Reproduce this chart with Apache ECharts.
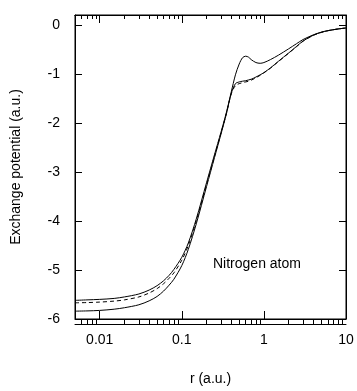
<!DOCTYPE html>
<html>
<head>
<meta charset="utf-8">
<script src="https://cdn.jsdelivr.net/npm/echarts@6/dist/echarts.min.js"></script>
<style>
  html, body { margin: 0; padding: 0; background: #fff; }
  #chart { width: 357px; height: 391px; }
</style>
</head>
<body>
<div id="chart"></div>
<script>
// radius grid (a.u.)
const rValues = [0.005, 0.007, 0.01, 0.015, 0.02, 0.03, 0.04, 0.05, 0.06, 0.07, 0.08, 0.1, 0.12, 0.15, 0.2, 0.25, 0.3, 0.35, 0.4, 0.45, 0.5, 0.55, 0.6, 0.65, 0.7, 0.8, 0.9, 1, 1.2, 1.5, 2, 2.5, 3, 4, 5, 6, 8, 10];

// solid curve with the intershell bump
const solidBump = [-5.62, -5.61, -5.60, -5.58, -5.55, -5.49, -5.41, -5.32, -5.22, -5.11, -4.99, -4.74, -4.45, -3.96, -3.22, -2.65, -2.19, -1.78, -1.37, -1.02, -0.80, -0.67, -0.64, -0.66, -0.71, -0.77, -0.785, -0.77, -0.71, -0.62, -0.49, -0.385, -0.30, -0.205, -0.15, -0.12, -0.085, -0.065];

// dashed curve
const dashed = [-5.67, -5.665, -5.655, -5.635, -5.61, -5.55, -5.47, -5.38, -5.28, -5.17, -5.06, -4.80, -4.50, -4.00, -3.26, -2.68, -2.21, -1.80, -1.41, -1.24, -1.20, -1.18, -1.165, -1.15, -1.13, -1.08, -1.03, -0.98, -0.885, -0.75, -0.58, -0.445, -0.335, -0.215, -0.155, -0.12, -0.085, -0.065];

// solid curve without the bump
const solidFlat = [-5.84, -5.835, -5.825, -5.80, -5.77, -5.71, -5.63, -5.54, -5.43, -5.31, -5.19, -4.91, -4.58, -4.06, -3.30, -2.71, -2.23, -1.81, -1.40, -1.20, -1.165, -1.15, -1.14, -1.125, -1.11, -1.065, -1.02, -0.975, -0.88, -0.745, -0.575, -0.44, -0.33, -0.212, -0.153, -0.12, -0.085, -0.065];

// ticks
const xMajorTicks = [0.01, 0.1, 1, 10];
const xMinorTicks = [0.006, 0.007, 0.008, 0.009, 0.02, 0.03, 0.04, 0.05, 0.06, 0.07, 0.08, 0.09, 0.2, 0.3, 0.4, 0.5, 0.6, 0.7, 0.8, 0.9, 2, 3, 4, 5, 6, 7, 8, 9];
const yTicks = [-6, -5, -4, -3, -2, -1, 0];

const font = 'Liberation Sans, Arial, sans-serif';

const toPairs = (vals) => rValues.map((r, i) => [r, vals[i]]);

function xAxisDef(gridIndex, pos, ticks, len, labels) {
  return {
    type: 'log',
    gridIndex: gridIndex,
    position: pos,
    min: 0.005,
    max: 10,
    logBase: 10,
    name: labels ? 'r (a.u.)' : '',
    nameLocation: 'middle',
    nameGap: 53,
    nameTextStyle: { fontFamily: font, fontSize: 14, color: '#000' },
    axisLine: { show: true, onZero: false, lineStyle: { color: '#000', width: 1 } },
    axisTick: { show: true, inside: true, length: len, customValues: ticks, lineStyle: { color: '#000', width: 1 } },
    axisLabel: labels
      ? { show: true, customValues: ticks, margin: 14, fontFamily: font, fontSize: 14, color: '#000', formatter: (v) => String(v) }
      : { show: false },
    splitLine: { show: false },
    minorTick: { show: false },
  };
}

function yAxisDef(gridIndex, pos, labels, visible) {
  return {
    type: 'value',
    gridIndex: gridIndex,
    show: visible,
    position: pos,
    min: -6,
    max: 0.2,
    interval: 1,
    name: labels ? 'Exchange potential (a.u.)' : '',
    nameLocation: 'middle',
    nameGap: 52,
    nameTextStyle: { fontFamily: font, fontSize: 14, color: '#000' },
    axisLine: { show: true, onZero: false, lineStyle: { color: '#000', width: 1 } },
    axisTick: { show: true, inside: true, length: 7, customValues: yTicks, lineStyle: { color: '#000', width: 1 } },
    axisLabel: labels
      ? { show: true, customValues: yTicks, margin: 15, fontFamily: font, fontSize: 14, color: '#000' }
      : { show: false },
    splitLine: { show: false },
  };
}

const chart = echarts.init(document.getElementById('chart'), null, { renderer: 'canvas' });

const lineSeries = (data, dash) => ({
  type: 'line',
  xAxisIndex: 0,
  yAxisIndex: 0,
  data: data,
  showSymbol: false,
  smooth: 0.3,
  lineStyle: { color: '#000', width: 1, type: dash ? [4, 3] : 'solid' },
  animation: false,
});

const gridBox = { left: 75, right: 11, top: 15, bottom: 67 };

chart.setOption({
  animation: false,
  grid: [
    Object.assign({ show: true, borderColor: '#000', borderWidth: 1 }, gridBox),
    Object.assign({ show: false }, gridBox),
  ],
  xAxis: [
    xAxisDef(0, 'bottom', xMajorTicks, 8, true),
    xAxisDef(0, 'top', xMajorTicks, 8, false),
    xAxisDef(1, 'bottom', xMinorTicks, 4, false),
    xAxisDef(1, 'top', xMinorTicks, 4, false),
  ],
  yAxis: [
    yAxisDef(0, 'left', true, true),
    yAxisDef(0, 'right', false, true),
    yAxisDef(1, 'left', false, false),
  ],
  graphic: [
    {
      type: 'text',
      left: 213,
      top: 257,
      style: { text: 'Nitrogen atom', font: '14px ' + font, fill: '#000' },
    },
  ],
  series: [
    lineSeries(toPairs(solidBump), false),
    lineSeries(toPairs(dashed), true),
    lineSeries(toPairs(solidFlat), false),
  ],
});
</script>
</body>
</html>
